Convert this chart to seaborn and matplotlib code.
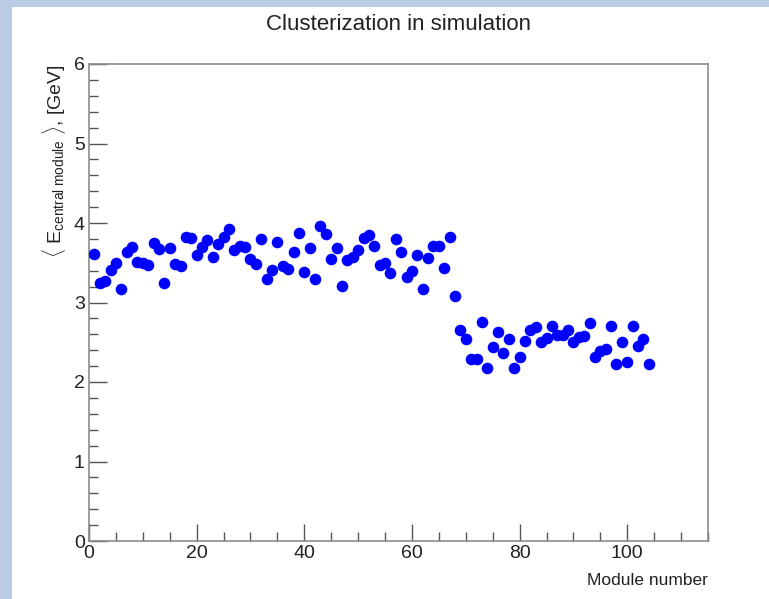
import matplotlib
matplotlib.use("Agg")
import matplotlib.pyplot as plt
from matplotlib.patches import Rectangle
from matplotlib.ticker import MultipleLocator
from matplotlib import font_manager
import seaborn as sns
import pandas as pd

# ---- data ----
modules = list(range(1, 105))
energy = [
    3.61, 3.24, 3.27, 3.41, 3.50, 3.17, 3.63, 3.70, 3.51, 3.50,
    3.47, 3.75, 3.67, 3.24, 3.69, 3.49, 3.46, 3.83, 3.81, 3.60,
    3.70, 3.79, 3.57, 3.73, 3.83, 3.93, 3.66, 3.71, 3.70, 3.55,
    3.49, 3.80, 3.30, 3.41, 3.76, 3.46, 3.42, 3.64, 3.87, 3.38,
    3.69, 3.30, 3.96, 3.86, 3.55, 3.69, 3.21, 3.54, 3.57, 3.66,
    3.81, 3.85, 3.71, 3.47, 3.50, 3.37, 3.80, 3.63, 3.32, 3.39,
    3.60, 3.17, 3.56, 3.71, 3.71, 3.43, 3.83, 3.08,
    2.66, 2.54, 2.29, 2.29, 2.75, 2.18, 2.44, 2.63, 2.37, 2.54,
    2.18, 2.31, 2.51, 2.65, 2.69, 2.50, 2.55, 2.70, 2.59, 2.59,
    2.66, 2.50, 2.56, 2.58, 2.74, 2.31, 2.39, 2.42, 2.70, 2.23,
    2.50, 2.25, 2.70, 2.45, 2.54, 2.23,
]
title = "Clusterization in simulation"
xlabel = "Module number"
ylabel = r"$\langle$ E$_{\mathrm{central\ module}}$ $\rangle$, [GeV]"

df = pd.DataFrame({"module": modules, "energy": energy})

sns.set_style("white")
avail = {f.name for f in font_manager.fontManager.ttflist}
main_font = "Liberation Sans Narrow" if "Liberation Sans Narrow" in avail else "Liberation Sans"
plt.rcParams["font.family"] = [main_font, "DejaVu Sans"]
plt.rcParams["mathtext.fontset"] = "custom"
plt.rcParams["mathtext.rm"] = main_font
plt.rcParams["mathtext.it"] = main_font
plt.rcParams["mathtext.bf"] = main_font

W, H = 769, 599
fig = plt.figure(figsize=(W / 100, H / 100), dpi=100, facecolor="white")

# light blue border bands
band = "#b9cce4"
fig.patches.append(Rectangle((0, 0), 12 / W, 1, transform=fig.transFigure,
                             facecolor=band, edgecolor="none", zorder=0))
fig.patches.append(Rectangle((0, 1 - 7 / H), 1, 7 / H, transform=fig.transFigure,
                             facecolor=band, edgecolor="none", zorder=0))

ax = fig.add_axes([89 / W, (H - 541) / H, (708 - 89) / W, (541 - 64) / H])
ax.set_facecolor("white")

sns.scatterplot(data=df, x="module", y="energy", ax=ax, color="#0000ff",
                s=70, edgecolor="#0000ff", linewidth=0, legend=False, zorder=3)

ax.set_xlim(0, 115)
ax.set_ylim(0, 6)
ax.xaxis.set_major_locator(MultipleLocator(20))
ax.xaxis.set_minor_locator(MultipleLocator(5))
ax.yaxis.set_major_locator(MultipleLocator(1))
ax.yaxis.set_minor_locator(MultipleLocator(0.2))

spine_c = "#8c8c8c"
for sp in ax.spines.values():
    sp.set_color(spine_c)
    sp.set_linewidth(1.2)
    sp.set_visible(True)

ax.tick_params(axis="both", which="both", direction="in", color="#555555",
               bottom=True, left=True, top=False, right=False)
ax.tick_params(axis="x", which="major", length=12, width=1, labelsize=14, pad=3)
ax.tick_params(axis="x", which="minor", length=6.5, width=1)
ax.tick_params(axis="y", which="major", length=13, width=1, labelsize=14, pad=3)
ax.tick_params(axis="y", which="minor", length=6.5, width=1)
for lab in ax.get_xticklabels() + ax.get_yticklabels():
    lab.set_color("#222222")

ax.set_xlabel(xlabel, fontsize=12.5, loc="right", color="#222222", labelpad=8)
ax.set_ylabel(ylabel, fontsize=14, loc="top", color="#222222", labelpad=4)

fig.text(398.5 / W, 1 - 25 / H, title, ha="center", va="center",
         fontsize=16, color="#222222")

fig.savefig("out.png", dpi=100, facecolor="white")
